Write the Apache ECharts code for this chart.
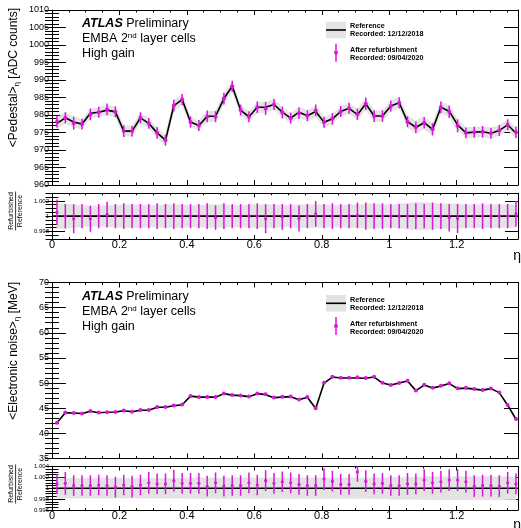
<!DOCTYPE html>
<html>
<head>
<meta charset="utf-8">
<script src="https://cdn.jsdelivr.net/npm/echarts@6/dist/echarts.min.js"></script>
<style>
  html, body { margin: 0; padding: 0; background: #fff; }
  #chart { width: 521px; height: 528px; }
</style>
</head>
<body>
<div id="chart"></div>
<script>
// bin centres in eta
const etaFirst = 0.0148;
const etaStep = 0.02475;
const etaTicks = [0, 0.2, 0.4, 0.6, 0.8, 1, 1.2];

// <Pedestal>_eta, reference run (ADC counts)
const pedestalRef = [
  977.6, 979.2, 978.0, 977.4, 980.5, 980.8, 981.4, 980.9, 975.4, 975.4,
  979.2, 977.6, 974.9, 972.8, 982.7, 984.4, 978.0, 977.0, 979.6, 979.7,
  984.7, 988.2, 981.4, 979.5, 982.2, 982.2, 983.0, 980.8, 979.1, 980.8,
  979.8, 981.0, 977.9, 978.9, 981.0, 981.9, 980.1, 983.2, 979.7, 979.7,
  982.6, 983.5, 978.1, 976.5, 977.8, 975.9, 982.2, 981.1, 977.2, 974.9,
  975.1, 975.2, 974.8, 975.6, 977.2, 974.8
];
// refurbished / reference
const pedestalRatio = [
  1.0005, 1.0, 0.99965, 1.0, 0.99965, 1.0, 1.0002, 1.0, 1.0, 1.0,
  1.0, 1.0, 1.0, 1.0, 1.0, 1.0, 1.0, 1.0, 1.0, 0.9998,
  1.0, 1.0, 1.0, 1.0, 1.0, 0.99965, 1.0, 0.9999, 1.0, 0.9997,
  1.0, 1.0003, 1.0, 1.0, 1.0, 1.0, 1.0001, 1.0, 1.0, 1.0,
  1.0, 1.0, 1.0, 1.0, 1.0, 1.0, 1.0, 0.9998, 0.9997, 1.0,
  1.0, 1.0, 1.0, 1.0, 1.0, 1.0003
];
// relative error of the refurbished points
const pedestalErr = [
  0.0017, 0.0016, 0.0019, 0.0016, 0.0017, 0.0016, 0.0017, 0.0016, 0.0017, 0.0016,
  0.0016, 0.0016, 0.0017, 0.0016, 0.0017, 0.0016, 0.0016, 0.0016, 0.0017, 0.0016,
  0.0017, 0.0016, 0.0016, 0.0016, 0.0017, 0.0019, 0.0016, 0.0017, 0.0016, 0.0017,
  0.0016, 0.0017, 0.0016, 0.0017, 0.0016, 0.0016, 0.0017, 0.0018, 0.0017, 0.0017,
  0.0016, 0.0016, 0.0016, 0.0017, 0.0016, 0.0018, 0.0017, 0.0018, 0.0019, 0.0016,
  0.0016, 0.0017, 0.0016, 0.0016, 0.0016, 0.0017
];
// relative half-width of the reference band
const pedestalBand = [
  0.0016, 0.0016, 0.0015, 0.0014, 0.0013, 0.0013, 0.0014, 0.0014, 0.0015, 0.0015,
  0.0015, 0.0014, 0.0014, 0.0015, 0.0015, 0.0015, 0.0014, 0.0014, 0.0015, 0.0015,
  0.0015, 0.0014, 0.0014, 0.0015, 0.0015, 0.0015, 0.0015, 0.0014, 0.0014, 0.0015,
  0.0015, 0.0015, 0.0015, 0.0014, 0.0014, 0.0015, 0.0015, 0.0016, 0.0016, 0.0015,
  0.0015, 0.0016, 0.0017, 0.0018, 0.0018, 0.0017, 0.0016, 0.0016, 0.0016, 0.0015,
  0.0015, 0.0015, 0.0015, 0.0015, 0.0015, 0.0015
];

// <Electronic noise>_eta, reference run (MeV)
const noiseRef = [
  42.1, 44.1, 44.05, 43.95, 44.4, 44.1, 44.2, 44.25, 44.5, 44.3,
  44.6, 44.6, 45.2, 45.2, 45.5, 45.7, 47.4, 47.2, 47.2, 47.2,
  47.9, 47.6, 47.5, 47.3, 47.9, 47.7, 47.1, 47.2, 47.3, 46.7,
  47.2, 44.95, 50.0, 51.2, 51.0, 51.0, 51.0, 50.95, 51.2, 50.0,
  49.6, 50.0, 50.4, 48.5, 49.6, 49.0, 49.4, 49.9, 48.9, 49.0,
  48.8, 48.6, 48.9, 48.1, 45.6, 42.8
];
const noiseRatio = [
  1.0008, 1.0009, 1.0005, 1.0005, 1.0005, 1.0006, 1.0005, 1.0002, 1.0006, 1.0003,
  1.0006, 1.0010, 1.0008, 1.0008, 1.0014, 1.0009, 1.0009, 1.0009, 1.0004, 1.0010,
  1.0004, 1.0005, 1.0005, 1.0010, 1.0006, 1.0014, 1.0009, 1.0012, 1.0010, 1.0007,
  1.0005, 1.0005, 1.0017, 1.0013, 1.0007, 1.0007, 1.0030, 1.0013, 1.0008, 1.0009,
  1.0005, 1.0005, 1.0008, 1.0008, 1.0015, 1.0010, 1.0012, 1.0015, 1.0015, 1.0012,
  1.0004, 1.0005, 1.0005, 1.0004, 1.0010, 1.0008
];
const noiseErr = [
  0.0018, 0.0021, 0.0019, 0.0019, 0.0019, 0.0019, 0.0019, 0.0019, 0.0019, 0.0020,
  0.0019, 0.0020, 0.0019, 0.0019, 0.0020, 0.0019, 0.0019, 0.0019, 0.0019, 0.0019,
  0.0019, 0.0019, 0.0019, 0.0019, 0.0019, 0.0019, 0.0019, 0.0019, 0.0019, 0.0019,
  0.0019, 0.0019, 0.0020, 0.0019, 0.0019, 0.0019, 0.0018, 0.0020, 0.0019, 0.0019,
  0.0019, 0.0019, 0.0020, 0.0019, 0.0020, 0.0020, 0.0020, 0.0020, 0.0020, 0.0020,
  0.0020, 0.0020, 0.0020, 0.0020, 0.0020, 0.0019
];
const noiseBand = [
  0.0019, 0.0018, 0.0018, 0.0018, 0.0018, 0.0018, 0.0018, 0.0018, 0.0018, 0.0018,
  0.0018, 0.0018, 0.0018, 0.0018, 0.0018, 0.0018, 0.0019, 0.0019, 0.0019, 0.0019,
  0.0019, 0.0019, 0.0019, 0.0019, 0.0019, 0.0019, 0.0019, 0.0019, 0.0019, 0.0019,
  0.0019, 0.0019, 0.0019, 0.0019, 0.0019, 0.0019, 0.0019, 0.0019, 0.0019, 0.0019,
  0.0020, 0.0020, 0.0020, 0.0020, 0.0021, 0.0021, 0.0021, 0.0021, 0.0021, 0.0021,
  0.0021, 0.0021, 0.0021, 0.0021, 0.0021, 0.0021
];

const FONT = '"Liberation Sans", Arial, Helvetica, sans-serif';
const MAG = '#dc14dc';
const BAND = '#e3e3e3';
const X_MAX = 1.382;

const eta = pedestalRef.map((_, i) => etaFirst + i * etaStep);
const ones = pedestalRef.map(() => 1);

function bandSegments(center, rel) {
  const out = [];
  for (let i = 0; i < center.length - 1; i++) {
    out.push([
      eta[i], center[i] * (1 - rel[i]), center[i] * (1 + rel[i]),
      eta[i + 1], center[i + 1] * (1 - rel[i + 1]), center[i + 1] * (1 + rel[i + 1])
    ]);
  }
  return out;
}

function errorPoints(center, ratio, err) {
  return center.map((c, i) => {
    const v = c * ratio[i];
    const e = c * err[i];
    return [eta[i], v - e, v, v + e];
  });
}

function renderBand(params, api) {
  const a = api.coord([api.value(0), api.value(1)]);
  const b = api.coord([api.value(3), api.value(4)]);
  const c = api.coord([api.value(3), api.value(5)]);
  const d = api.coord([api.value(0), api.value(2)]);
  return {
    type: 'polygon',
    shape: { points: [a, b, c, d] },
    style: { fill: BAND, stroke: BAND, lineWidth: 0.6 }
  };
}

function renderErrors(radius) {
  return function (params, api) {
    const x = api.value(0);
    const lo = api.coord([x, api.value(1)]);
    const mid = api.coord([x, api.value(2)]);
    const hi = api.coord([x, api.value(3)]);
    return {
      type: 'group',
      children: [
        { type: 'line', shape: { x1: lo[0], y1: lo[1], x2: hi[0], y2: hi[1] }, style: { stroke: MAG, lineWidth: 1.5 } },
        { type: 'circle', shape: { cx: mid[0], cy: mid[1], r: radius }, style: { fill: MAG } }
      ]
    };
  };
}

// plain numbers, no thousands separator
const plainNum = v => String(Math.round(v * 10000) / 10000);

// layout of the four pads
const panels = [
  { top: 10, height: 175, min: 960, max: 1010, major: 5, minor: 1, labelSize: 9, tickLen: 14, xTick: 5 },
  { top: 193.3, height: 45.7, min: 0.997, max: 1.003, labels: [0.998, 1, 1.002], minor: 0.0005, labelSize: 6, tickLen: 13, xTick: 4, xLabels: true },
  { top: 282.5, height: 176, min: 35, max: 70, major: 5, minor: 1, labelSize: 9, tickLen: 14, xTick: 5 },
  { top: 466.5, height: 43.5, min: 0.996, max: 1.004, major: 0.002, minor: 0.0005, labelSize: 6, tickLen: 13, xTick: 4, xLabels: true }
];

const grid = [];
const xAxis = [];
const yAxis = [];
const tickLine = { color: '#000', width: 1 };

panels.forEach((p, g) => {
  grid.push({ left: 52, top: p.top, width: 466, height: p.height });

  ['bottom', 'top'].forEach(pos => {
    const base = { gridIndex: g, type: 'value', min: 0, max: X_MAX, position: pos, splitLine: { show: false } };
    const showLab = p.xLabels && pos === 'bottom';
    xAxis.push(Object.assign({}, base, {
      axisLine: { show: true, onZero: false, lineStyle: tickLine },
      axisTick: { show: true, inside: true, length: p.xTick, customValues: etaTicks, lineStyle: tickLine },
      axisLabel: showLab
        ? { show: true, customValues: etaTicks, margin: 0, fontSize: 11, color: '#000', fontFamily: FONT, formatter: plainNum }
        : { show: false }
    }));
    xAxis.push(Object.assign({}, base, {
      interval: 0.05,
      axisLine: { show: false },
      axisTick: { show: true, inside: true, length: p.xTick / 2, lineStyle: tickLine },
      axisLabel: { show: false }
    }));
  });

  ['left', 'right'].forEach(pos => {
    const base = { gridIndex: g, type: 'value', min: p.min, max: p.max, position: pos, splitLine: { show: false } };
    const major = Object.assign({}, base, {
      axisLine: { show: true, onZero: false, lineStyle: tickLine },
      axisTick: { show: true, inside: true, length: p.tickLen, lineStyle: tickLine },
      axisLabel: pos === 'left'
        ? { show: true, margin: 3, fontSize: p.labelSize, color: '#000', fontFamily: FONT, formatter: plainNum }
        : { show: false }
    });
    if (p.labels) {
      major.axisTick.customValues = p.labels;
      if (pos === 'left') major.axisLabel.customValues = p.labels;
    } else {
      major.interval = p.major;
    }
    yAxis.push(major);
    yAxis.push(Object.assign({}, base, {
      interval: p.minor,
      axisLine: { show: false },
      axisTick: { show: true, inside: true, length: p.tickLen / 2, lineStyle: tickLine },
      axisLabel: { show: false }
    }));
  });
});

function mainSeries(g, ref, ratio, err, band) {
  return [
    { type: 'custom', xAxisIndex: 4 * g, yAxisIndex: 4 * g, clip: true, z: 1,
      renderItem: renderBand, encode: { x: [0, 3], y: [1, 2, 4, 5] }, data: bandSegments(ref, band) },
    { type: 'line', xAxisIndex: 4 * g, yAxisIndex: 4 * g, z: 2, showSymbol: false, silent: true,
      lineStyle: { color: '#000', width: 1.6 }, data: ref.map((v, i) => [eta[i], v]) },
    { type: 'custom', xAxisIndex: 4 * g, yAxisIndex: 4 * g, clip: true, z: 3,
      renderItem: renderErrors(2), encode: { x: 0, y: [1, 2, 3] }, data: errorPoints(ref, ratio, err) }
  ];
}

function ratioSeries(g, ratio, err, band) {
  return [
    { type: 'custom', xAxisIndex: 4 * g, yAxisIndex: 4 * g, clip: true, z: 1,
      renderItem: renderBand, encode: { x: [0, 3], y: [1, 2, 4, 5] }, data: bandSegments(ones, band) },
    { type: 'line', xAxisIndex: 4 * g, yAxisIndex: 4 * g, z: 2, showSymbol: false, silent: true,
      lineStyle: { color: '#000', width: 1.6 }, data: [[0, 1], [X_MAX, 1]] },
    { type: 'custom', xAxisIndex: 4 * g, yAxisIndex: 4 * g, clip: true, z: 3,
      renderItem: renderErrors(1.6), encode: { x: 0, y: [1, 2, 3] }, data: errorPoints(ones, ratio, err) }
  ];
}

function txt(x, y, text, size, extra) {
  return {
    type: 'text', x: x, y: y, z: 100,
    style: Object.assign({ text: text, fontSize: size, fontFamily: FONT, fill: '#000', align: 'left', verticalAlign: 'middle' }, extra || {})
  };
}

function atlasLabel(y) {
  const n = { fontSize: 12.5, fontFamily: FONT, fill: '#000' };
  return [
    txt(82, y, '{b|ATLAS} {n|Preliminary}', 12.5, {
      rich: { b: Object.assign({}, n, { fontWeight: 'bold', fontStyle: 'italic' }), n: n }
    }),
    txt(82, y + 15, '{n|EMBA 2}{sup|nd}{n| layer cells}', 12.5, {
      lineHeight: 15,
      rich: { n: Object.assign({ lineHeight: 15 }, n), sup: { fontSize: 8, fontFamily: FONT, fill: '#000', lineHeight: 8, verticalAlign: 'top' } }
    }),
    txt(82, y + 30, 'High gain', 12.5)
  ];
}

function legend(y0) {
  const bold = { fontWeight: 'bold' };
  return [
    { type: 'rect', z: 100, shape: { x: 326, y: y0, width: 20, height: 16.6 }, style: { fill: BAND } },
    { type: 'line', z: 101, shape: { x1: 326, y1: y0 + 8.3, x2: 346, y2: y0 + 8.3 }, style: { stroke: '#000', lineWidth: 1.6 } },
    txt(350, y0 + 4.8, 'Reference', 7.2, bold),
    txt(350, y0 + 12.6, 'Recorded: 12/12/2018', 7.2, bold),
    { type: 'line', z: 101, shape: { x1: 336, y1: y0 + 22, x2: 336, y2: y0 + 40 }, style: { stroke: MAG, lineWidth: 1.5 } },
    { type: 'circle', z: 101, shape: { cx: 336, cy: y0 + 31, r: 2 }, style: { fill: MAG } },
    txt(350, y0 + 28.8, 'After refurbishment', 7.2, bold),
    txt(350, y0 + 36.6, 'Recorded: 09/04/2020', 7.2, bold)
  ];
}

function yTitle(yTop, text) {
  return {
    type: 'text', x: 13.5, y: yTop, rotation: Math.PI / 2, z: 100,
    style: {
      text: text, fontSize: 12, fontFamily: FONT, fill: '#000', lineHeight: 15,
      align: 'right', verticalAlign: 'middle',
      rich: {
        n: { fontSize: 12, fontFamily: FONT, fill: '#000', lineHeight: 15 },
        s: { fontSize: 8, fontFamily: FONT, fill: '#000', lineHeight: 8, verticalAlign: 'bottom' }
      }
    }
  };
}

function ratioTitle(yc) {
  const st = (t) => ({ text: t, fontSize: 7, fontFamily: FONT, fill: '#000', align: 'center', verticalAlign: 'middle' });
  return [
    { type: 'text', x: 11.5, y: yc, rotation: Math.PI / 2, z: 100, style: st('Refurbished') },
    { type: 'line', z: 100, shape: { x1: 15.6, y1: yc - 19.5, x2: 15.6, y2: yc + 19.5 }, style: { stroke: '#000', lineWidth: 0.8 } },
    { type: 'text', x: 19.8, y: yc, rotation: Math.PI / 2, z: 100, style: st('Reference') }
  ];
}

function etaLabel(y) {
  return txt(521, y, 'η', 14, { align: 'right', verticalAlign: 'top' });
}

const graphic = [].concat(
  atlasLabel(24), atlasLabel(297),
  legend(21.7), legend(295),
  [yTitle(8, '{n|<Pedestal>}{s|η}{n| [ADC counts]}'), yTitle(282, '{n|<Electronic noise>}{s|η}{n| [MeV]}')],
  ratioTitle(211), ratioTitle(484),
  [etaLabel(249), etaLabel(518)]
);

const chart = echarts.init(document.getElementById('chart'), null, { renderer: 'canvas' });
chart.setOption({
  animation: false,
  backgroundColor: '#fff',
  grid: grid,
  xAxis: xAxis,
  yAxis: yAxis,
  graphic: graphic,
  series: [].concat(
    mainSeries(0, pedestalRef, pedestalRatio, pedestalErr, pedestalBand),
    ratioSeries(1, pedestalRatio, pedestalErr, pedestalBand),
    mainSeries(2, noiseRef, noiseRatio, noiseErr, noiseBand),
    ratioSeries(3, noiseRatio, noiseErr, noiseBand)
  )
});
</script>
</body>
</html>
